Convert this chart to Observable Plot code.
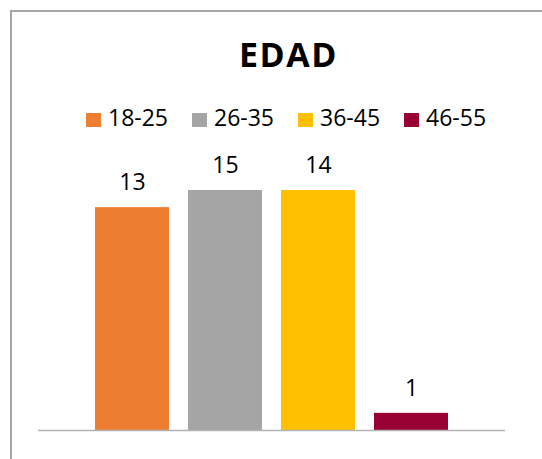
<!DOCTYPE html>
<html>
<head>
<meta charset="utf-8">
<script src="https://cdn.jsdelivr.net/npm/d3@7"></script>
<script src="https://cdn.jsdelivr.net/npm/@observablehq/plot@0.6"></script>
<style>
  html, body { margin: 0; padding: 0; background: #fff; }
  #wrap { position: relative; width: 542px; height: 459px; overflow: hidden; font-family: "Open Sans", sans-serif; }
  #frame { position: absolute; left: 10px; top: 10px; width: 700px; height: 700px; border-left: 2px solid #a6a6a6; border-top: 2px solid #a6a6a6; box-sizing: border-box; }
  #title { position: absolute; left: 0; width: 577px; top: 37px; text-align: center; font-size: 34px; line-height: 34px; font-weight: 700; letter-spacing: 1.5px; color: #000; }
  #legend { position: absolute; left: 86px; top: 106px; display: flex; gap: 24px; font-size: 23px; line-height: 23px; color: #000; }
  .item { display: flex; align-items: flex-start; gap: 7px; }
  .sw { width: 15px; height: 14px; margin-top: 7px; }
  #chart { position: absolute; left: 0; top: 140px; }
</style>
</head>
<body>
<div id="wrap">
  <div id="frame"></div>
  <div id="title">EDAD</div>
  <div id="legend"></div>
  <div id="chart"></div>
</div>
<script>
const categories = ["18-25", "26-35", "36-45", "46-55"];
const barHeights = [13, 14, 14, 1];      // bar heights as drawn in the picture
const labels = ["13", "15", "14", "1"];  // data labels as printed
const colors = ["#ED7D31", "#A5A5A5", "#FFC000", "#990033"];

const data = categories.map((c, i) => ({cat: c, v: barHeights[i], label: labels[i]}));

const legend = document.getElementById("legend");
categories.forEach((c, i) => {
  const it = document.createElement("div");
  it.className = "item";
  it.innerHTML = `<div class="sw" style="background:${colors[i]}"></div><div>${c}</div>`;
  legend.appendChild(it);
});

const plot = Plot.plot({
  width: 542,
  height: 300,
  marginLeft: 38,
  marginRight: 37,
  marginTop: 0,
  marginBottom: 10,
  style: {fontFamily: "Open Sans", background: "transparent"},
  x: {domain: categories, range: [94, 449], paddingInner: 0.2, paddingOuter: 0, axis: null},
  y: {domain: [0, 14], range: [290, 50], axis: null},
  color: {domain: categories, range: colors},
  marks: [
    Plot.barY(data, {x: "cat", y: "v", fill: "cat"}),
    Plot.ruleY([0], {stroke: "#b3b3b3", strokeWidth: 1.5}),
    Plot.text(data, {x: "cat", y: "v", text: "label", dy: -25, lineAnchor: "middle", textAnchor: "middle", fontSize: 23, fill: "#000"})
  ]
});
document.getElementById("chart").appendChild(plot);
</script>
</body>
</html>
